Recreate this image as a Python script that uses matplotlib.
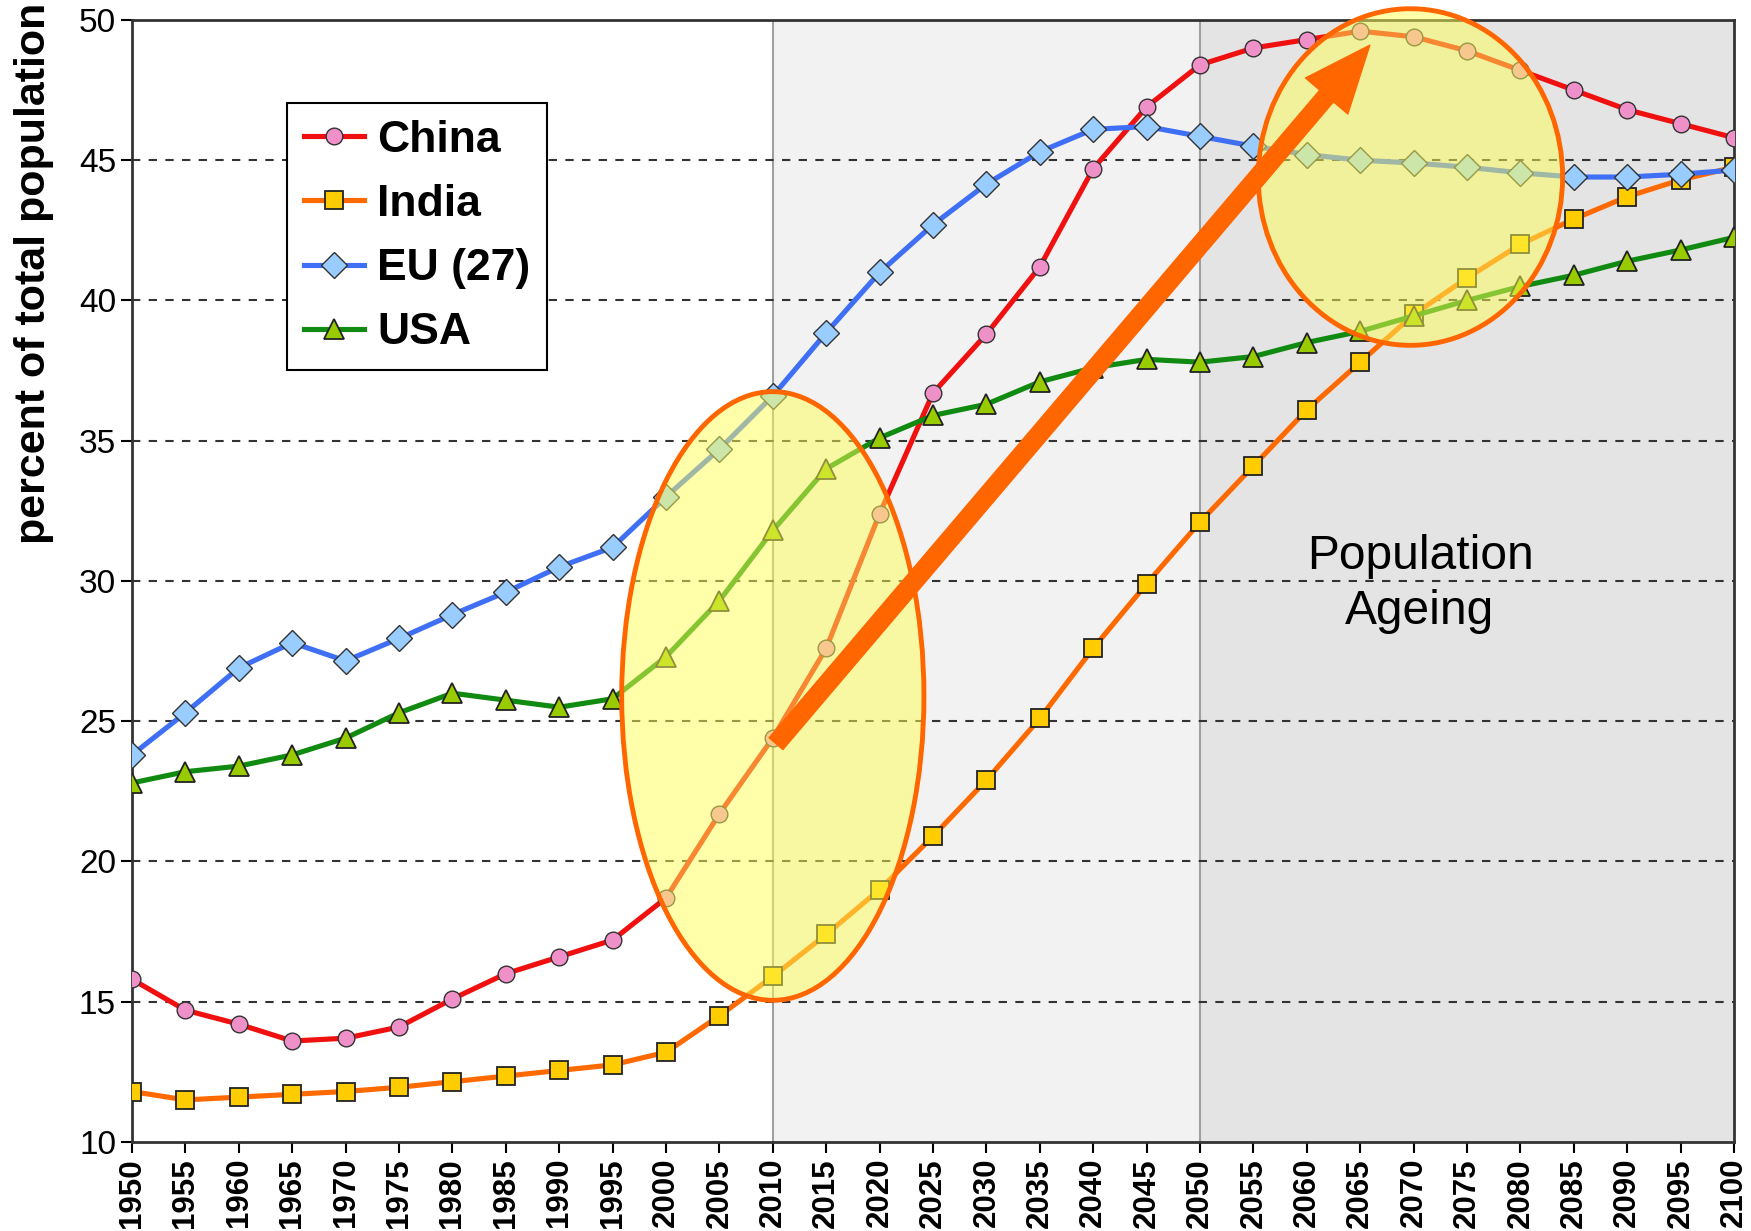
import numpy as np
import matplotlib.pyplot as plt
from matplotlib.patches import Ellipse, FancyArrowPatch

plt.rcParams['font.family'] = ['Liberation Sans', 'DejaVu Sans']

years = list(range(1950, 2101, 5))

china = [15.8, 14.7, 14.2, 13.6, 13.7, 14.1, 15.1, 16.0, 16.6, 17.2,
         18.7, 21.7, 24.4, 27.6, 32.4, 36.7, 38.8, 41.2, 44.7, 46.9,
         48.4, 49.0, 49.3, 49.6, 49.4, 48.9, 48.2, 47.5, 46.8, 46.3, 45.8]
india = [11.8, 11.5, 11.6, 11.7, 11.8, 11.95, 12.15, 12.35, 12.55, 12.75,
         13.2, 14.5, 15.9, 17.4, 19.0, 20.9, 22.9, 25.1, 27.6, 29.9,
         32.1, 34.1, 36.1, 37.8, 39.5, 40.8, 42.0, 42.9, 43.7, 44.3, 44.75]
eu27 = [23.8, 25.3, 26.9, 27.8, 27.15, 27.95, 28.8, 29.6, 30.5, 31.2,
        33.0, 34.7, 36.6, 38.85, 41.0, 42.7, 44.15, 45.3, 46.1, 46.2,
        45.85, 45.5, 45.2, 45.0, 44.9, 44.75, 44.55, 44.4, 44.4, 44.5, 44.65]
usa = [22.8, 23.2, 23.4, 23.8, 24.4, 25.3, 26.0, 25.75, 25.5, 25.8,
       27.3, 29.3, 31.8, 34.0, 35.1, 35.9, 36.3, 37.1, 37.6, 37.9,
       37.8, 38.0, 38.5, 38.9, 39.45, 40.0, 40.5, 40.9, 41.4, 41.8, 42.25]

fig = plt.figure(figsize=(17.51, 12.31), dpi=100)
ax = fig.add_axes([0.0754, 0.0723, 0.9149, 0.9115])

# shaded projection periods
ax.axvspan(2010, 2050, color='#f2f2f2', zorder=0)
ax.axvspan(2050, 2100, color='#e4e4e4', zorder=0)
ax.axvline(2010, color='#a0a0a0', lw=1.5, zorder=0.5)
ax.axvline(2050, color='#a0a0a0', lw=1.5, zorder=0.5)

for v in range(15, 50, 5):
    ax.axhline(v, color='#333333', lw=1.5, ls=(0, (4, 4)), zorder=1)

ax.plot(years, china, color='#f01010', lw=3.7, marker='o', ms=12,
        mfc='#f090c8', mec='#333333', mew=1.0, label='China', zorder=3)
ax.plot(years, india, color='#ff6a00', lw=3.7, marker='s', ms=13,
        mfc='#ffcc00', mec='#222222', mew=1.3, label='India', zorder=3)
ax.plot(years, eu27, color='#3f6ff5', lw=3.7, marker='D', ms=13,
        mfc='#99ccff', mec='#333333', mew=1.0, label='EU (27)', zorder=3)
ax.plot(years, usa, color='#108a10', lw=3.7, marker='^', ms=15,
        mfc='#99cc00', mec='#222222', mew=1.3, label='USA', zorder=3)

# highlight ellipses
e1 = Ellipse((2010, 25.9), 28.3, 21.7, facecolor='#ffff55', alpha=0.5,
             edgecolor='none', zorder=4)
e1b = Ellipse((2010, 25.9), 28.3, 21.7, facecolor='none',
              edgecolor='#ff6600', lw=3.5, zorder=4)
e2 = Ellipse((2069.7, 44.4), 28.5, 12.0, facecolor='#ffff55', alpha=0.5,
             edgecolor='none', zorder=4, clip_on=False)
e2b = Ellipse((2069.7, 44.4), 28.5, 12.0, facecolor='none',
              edgecolor='#ff6600', lw=3.5, zorder=4, clip_on=False)
for p in (e1, e1b, e2, e2b):
    ax.add_patch(p)

arrow = FancyArrowPatch((2010.3, 24.2), (2065.9, 49.1),
                        arrowstyle='simple,head_length=2.4,head_width=2.0,tail_width=0.65',
                        mutation_scale=20, color='#ff6600', shrinkA=0, shrinkB=0,
                        zorder=5, clip_on=False)
ax.add_patch(arrow)

ax.text(2070.6, 29.9, 'Population\nAgeing', ha='center', va='center',
        fontsize=34.5, linespacing=1.3, zorder=6)

ax.set_xlim(1950, 2100)
ax.set_ylim(10, 50)
ax.set_xticks(years)
ax.set_xticklabels([str(y) for y in years], rotation=90, fontsize=22.5,
                   fontweight='bold')
ax.set_yticks(range(10, 51, 5))
ax.tick_params(axis='y', labelsize=24, length=8, width=1.5)
ax.tick_params(axis='x', length=8, width=1.5)
for s in ax.spines.values():
    s.set_linewidth(2)
    s.set_color('#333333')
ax.set_ylabel('percent of total population', fontsize=31, fontweight='bold')
ax.yaxis.set_label_coords(-0.049, 0.774)

leg = ax.legend(loc='upper left', bbox_to_anchor=(0.0968, 0.926),
                borderaxespad=0, fancybox=False, framealpha=1,
                edgecolor='black', prop={'size': 32, 'weight': 'bold'},
                handlelength=1.35, handletextpad=0.3, labelspacing=0.52,
                borderpad=0.38)
leg.get_frame().set_linewidth(1.5)
leg.set_zorder(7)

fig.savefig('out.png', dpi=100)
